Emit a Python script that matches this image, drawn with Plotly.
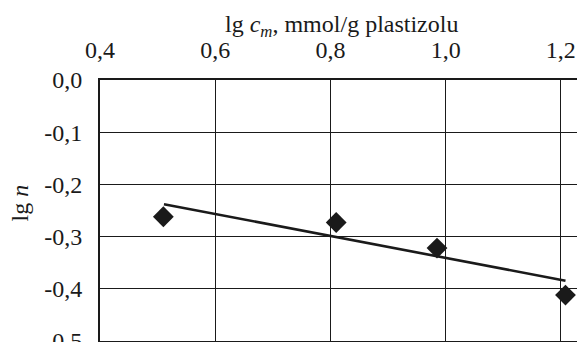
import plotly.graph_objects as go

# data
lg_cm = [0.51, 0.81, 0.985, 1.208]
lg_n = [-0.262, -0.273, -0.322, -0.412]
trend_x = [0.511, 1.208]
trend_y = [-0.238, -0.3845]
x_ticks = [0.4, 0.6, 0.8, 1.0, 1.2]
x_ticktext = ["0,4", "0,6", "0,8", "1,0", "1,2"]
y_ticks = [0.0, -0.1, -0.2, -0.3, -0.4, -0.5]
y_ticktext = ["0,0", "-0,1", "-0,2", "-0,3", "-0,4", "-0,5"]

FONT = "'Liberation Serif', 'Times New Roman', Tinos, 'DejaVu Serif', serif"
INK = "#1a1a1a"
FS = 24

fig = go.Figure()
fig.add_trace(go.Scatter(x=trend_x, y=trend_y, mode="lines",
                         line=dict(color=INK, width=2.6), showlegend=False))
fig.add_trace(go.Scatter(x=lg_cm, y=lg_n, mode="markers",
                         marker=dict(symbol="diamond", size=16, color=INK,
                                     line=dict(width=0)),
                         showlegend=False))

fig.update_layout(
    template="none",
    width=577, height=342,
    margin=dict(l=100, r=0, t=80, b=1, pad=0),
    paper_bgcolor="white", plot_bgcolor="white",
    font=dict(family=FONT, size=FS, color=INK),
    xaxis=dict(side="top", range=[0.4, 1.228], tickvals=x_ticks, ticktext=x_ticktext,
               showgrid=True, gridcolor=INK, gridwidth=1.3, automargin=False,
               showline=True, linecolor=INK, linewidth=2, mirror=True,
               ticks="outside", ticklen=10, tickcolor="rgba(0,0,0,0)",
               ticklabeloverflow="allow",
               zeroline=False, tickfont=dict(family=FONT, size=FS, color=INK)),
    yaxis=dict(range=[-0.5, 0.0], tickvals=y_ticks, ticktext=y_ticktext,
               showgrid=True, gridcolor=INK, gridwidth=1.3, automargin=False,
               showline=True, linecolor=INK, linewidth=2, mirror=False,
               ticks="outside", ticklen=11, tickcolor="rgba(0,0,0,0)",
               ticklabeloverflow="allow",
               zeroline=False, tickfont=dict(family=FONT, size=FS, color=INK)),
    annotations=[
        dict(text="lg <i>c</i><sub><i>m</i></sub>, mmol/g plastizolu",
             xref="paper", yref="paper", x=0.5, y=1.0, yshift=54,
             xshift=3, xanchor="center", yanchor="middle", showarrow=False,
             font=dict(family=FONT, size=FS, color=INK)),
        dict(text="lg <i>n</i>", xref="paper", yref="paper", x=0, y=0.5,
             xshift=-81, yshift=7, textangle=-90, xanchor="center", yanchor="middle",
             showarrow=False, font=dict(family=FONT, size=FS, color=INK)),
    ],
)

fig.write_html("out.html")
